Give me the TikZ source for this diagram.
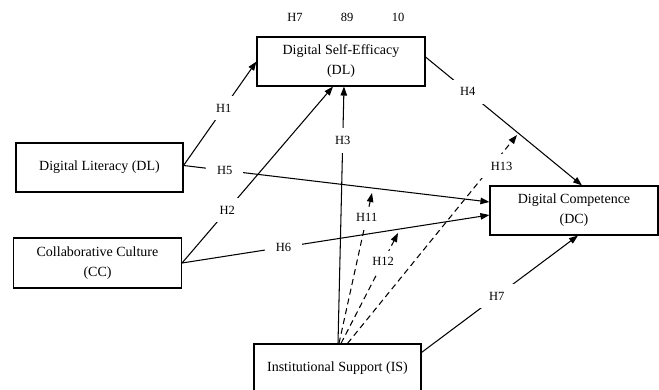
\documentclass[tikz,border=0pt]{standalone}
\usepackage{fontspec}
\setmainfont{Liberation Serif}
\usetikzlibrary{arrows.meta,calc}
\begin{document}
\begin{tikzpicture}[x=1pt,y=-1pt,
  box/.style={draw,line width=1.1pt,rectangle,minimum width=#1,minimum height=49pt,inner sep=0pt,align=center,
    font=\fontsize{14}{20}\selectfont},
  box/.default=168pt,
  conn/.style={line width=1.05pt,-{Triangle[length=9pt,width=6.5pt]}},
  dconn/.style={conn,dash pattern=on 6pt off 4pt},
  lab/.style={fill=white,inner xsep=11pt,inner ysep=8pt,font=\fontsize{12.5}{14}\selectfont},
  toplab/.style={inner sep=0pt,font=\fontsize{12.5}{14}\selectfont}]
\useasboundingbox (0,0) rectangle (659,390);
% boxes
\node[box] (dse) at (341,61.5) {Digital Self-Efficacy\\(DL)};
\node[box=167pt] (dl) at (99.5,167.5) {Digital Literacy (DL)};
\node[box,minimum height=50pt] (cc) at (97.5,263) {Collaborative Culture\\(CC)};
\node[box] (dc) at (574,210.5) {Digital Competence\\(DC)};
\node[box=167pt,minimum height=48pt] (is) at (337.5,368) {Institutional Support (IS)};
% top labels
\node[toplab] (t1) at (295,17) {H7};
\node[toplab] (t2) at (347,17) {89};
\node[toplab] (t3) at (398,17) {10};
% free ends of moderation arrows
\coordinate (m11) at (372,193);
\coordinate (m12) at (398,233);
\coordinate (m13) at (517,135);
% direct paths
\draw[conn] ($(dl.east)+(0,-2)$) -- node[lab,pos=0.55] {H1} (dse.west);
\draw[conn] (cc.east) -- node[lab,pos=0.3] {H2} ($(dse.south)+(-8,0)$);
\draw[conn] ($(is.north)+(0.5,0)$) -- node[lab,pos=0.79] {H3} ($(dse.south)+(3,0)$);
\draw[conn] ($(dse.east)+(0,-4.5)$) -- node[lab,pos=0.27] {H4} ($(dc.north)+(8,0)$);
\draw[conn] ($(dl.east)+(0,-2)$) -- node[lab,pos=0.135] {H5} ($(dc.west)+(0,-8.5)$);
\draw[conn] (cc.east) -- node[lab,pos=0.33] {H6} ($(dc.west)+(0,4.5)$);
\draw[conn] ($(is.north east)+(0,9)$) -- node[lab,pos=0.48] {H7} ($(dc.south)+(4,0)$);
% moderation
\draw[dconn] ($(is.north)+(1.5,0)$) -- node[lab,pos=0.84,inner ysep=6pt,inner xsep=4pt] {H11} (m11);
\draw[dconn] ($(is.north)+(3.5,0)$) -- node[lab,pos=0.74,inner ysep=7pt,inner xsep=4pt] {H12} (m12);
\draw[dconn] ($(is.north)+(10,0)$) -- node[lab,pos=0.85,xshift=10pt] {H13} (m13);
\end{tikzpicture}
\end{document}
